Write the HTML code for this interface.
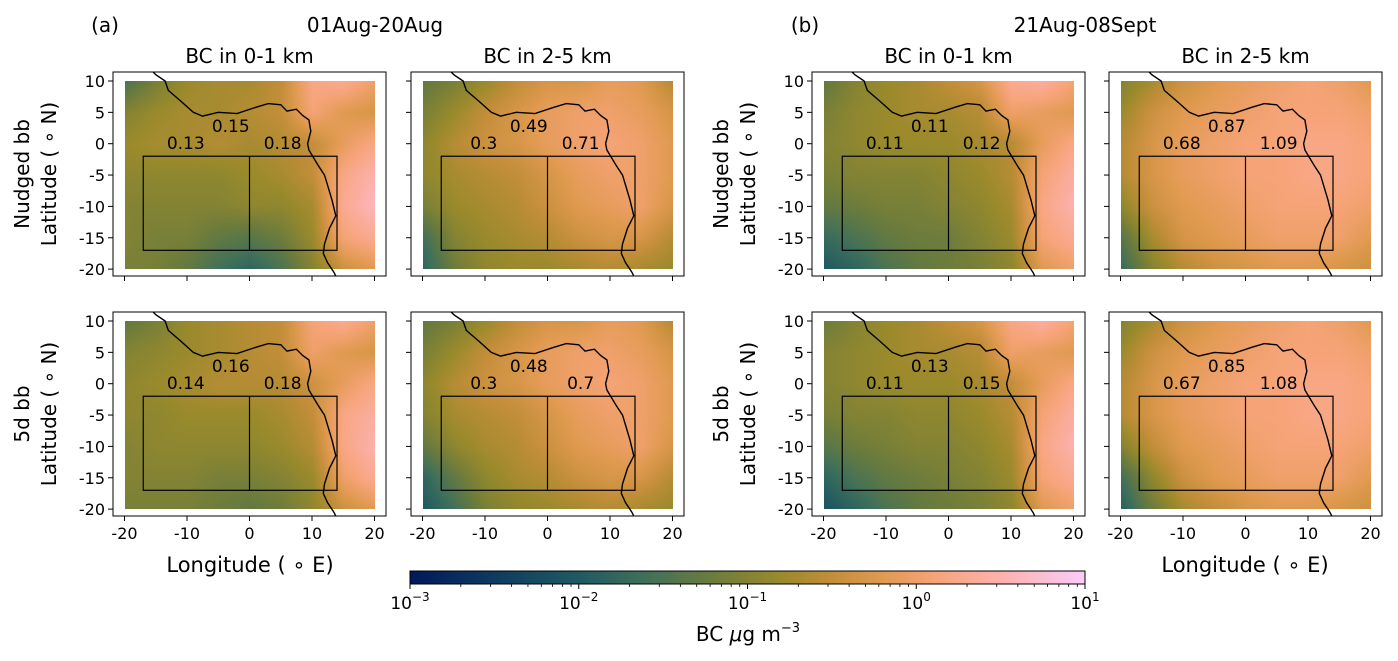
<!DOCTYPE html>
<html><head><meta charset="utf-8">
<style>
body{margin:0;background:#fff;width:1398px;height:661px;overflow:hidden;position:relative;font-family:"Liberation Sans","DejaVu Sans",sans-serif}
canvas{position:absolute}
svg{position:absolute;left:0;top:0}
</style></head>
<body>
<div id="maps"></div>
<svg id="s" width="1398" height="661" font-family="DejaVu Sans, Liberation Sans, sans-serif"></svg>
<script>
// grid: lon -20..20 step 5 (cols), lat 10..-20 step 5 (rows); values are log10(BC)
const lons=[-20,-15,-10,-5,0,5,10,15,20];
const lats=[10,5,0,-5,-10,-15,-20];
const gridA1=[[-1.5,-1.1,-0.8,-0.7,-0.7,-0.5,0.2,0.3,0.0],[-1.0,-0.8,-0.7,-0.7,-0.6,-0.5,0.1,-0.2,-0.3],[-0.8,-0.7,-0.7,-0.6,-0.7,-0.6,-0.5,-0.1,0.2],[-0.9,-0.9,-0.9,-0.9,-0.8,-0.7,-0.5,0.2,0.5],[-1.0,-1.0,-1.0,-1.0,-0.9,-0.9,-0.7,0.3,0.6],[-1.0,-1.1,-1.1,-1.3,-1.4,-1.2,-0.8,0.1,0.3],[-1.1,-1.1,-1.3,-1.6,-1.8,-1.5,-1.0,-0.4,-0.2]];
const gridA2=[[-1.3,-1.1,-0.8,-0.5,-0.3,-0.3,-0.1,-0.2,-0.6],[-1.1,-0.8,-0.5,-0.3,-0.1,0.0,0.0,-0.1,-0.3],[-0.9,-0.6,-0.4,-0.3,-0.1,0.0,0.1,0.0,-0.2],[-0.9,-0.7,-0.6,-0.5,-0.3,-0.1,0.0,0.0,-0.2],[-1.1,-0.8,-0.7,-0.6,-0.4,-0.2,-0.1,0.0,-0.3],[-1.6,-1.0,-0.8,-0.7,-0.6,-0.4,-0.3,-0.3,-0.6],[-1.8,-1.2,-0.9,-0.8,-0.8,-0.7,-0.6,-0.7,-0.8]];
const gridA3=[[-1.3,-1.1,-0.8,-0.7,-0.6,-0.5,0.1,0.3,0.0],[-1.0,-0.9,-0.8,-0.7,-0.6,-0.5,0.0,-0.2,-0.3],[-0.9,-0.8,-0.7,-0.6,-0.6,-0.6,-0.4,-0.1,0.2],[-0.9,-0.9,-0.8,-0.8,-0.8,-0.7,-0.5,0.2,0.4],[-1.0,-0.9,-0.9,-0.9,-0.9,-0.8,-0.6,0.2,0.5],[-1.0,-1.0,-1.0,-1.1,-1.1,-1.0,-0.8,0.0,0.3],[-1.1,-1.1,-1.1,-1.2,-1.3,-1.2,-0.9,-0.4,-0.2]];
const gridA4=[[-1.3,-1.1,-0.8,-0.5,-0.3,-0.3,-0.1,-0.2,-0.6],[-1.1,-0.8,-0.5,-0.3,-0.1,0.0,0.0,-0.1,-0.3],[-0.9,-0.6,-0.4,-0.3,-0.1,0.0,0.1,0.0,-0.2],[-1.0,-0.7,-0.6,-0.5,-0.3,-0.1,0.0,0.0,-0.2],[-1.3,-0.9,-0.7,-0.6,-0.4,-0.2,-0.1,0.0,-0.3],[-1.8,-1.3,-0.9,-0.7,-0.6,-0.4,-0.3,-0.3,-0.6],[-2.0,-1.6,-1.1,-0.9,-0.8,-0.7,-0.6,-0.7,-0.8]];
const gridB1=[[-1.3,-1.0,-0.8,-0.7,-0.5,-0.3,0.3,0.4,0.1],[-1.1,-0.9,-0.8,-0.7,-0.7,-0.6,0.0,-0.1,-0.2],[-1.0,-0.9,-0.8,-0.8,-0.8,-0.7,-0.6,-0.1,0.2],[-1.1,-1.0,-1.0,-1.0,-0.9,-0.8,-0.6,0.1,0.4],[-1.3,-1.2,-1.1,-1.1,-1.0,-0.9,-0.7,0.2,0.5],[-1.7,-1.5,-1.3,-1.2,-1.2,-1.0,-0.8,0.1,0.3],[-2.0,-1.8,-1.5,-1.3,-1.2,-1.1,-0.9,-0.2,0.0]];
const gridB2=[[-1.0,-0.7,-0.4,-0.2,-0.1,0.0,0.1,0.0,-0.2],[-0.8,-0.4,-0.2,-0.1,0.0,0.1,0.1,0.1,0.0],[-0.6,-0.3,-0.1,0.0,0.1,0.1,0.2,0.2,0.1],[-0.6,-0.3,-0.1,0.0,0.1,0.1,0.2,0.2,0.1],[-0.9,-0.4,-0.2,-0.1,0.0,0.1,0.1,0.1,0.0],[-1.4,-0.7,-0.3,-0.2,-0.1,0.0,0.0,0.0,-0.2],[-1.7,-1.0,-0.6,-0.4,-0.3,-0.2,-0.2,-0.3,-0.4]];
const gridB3=[[-1.2,-1.0,-0.8,-0.7,-0.5,-0.3,0.2,0.4,0.1],[-1.0,-0.9,-0.8,-0.7,-0.7,-0.6,0.0,-0.1,-0.2],[-1.0,-0.9,-0.8,-0.8,-0.8,-0.7,-0.5,-0.1,0.2],[-1.1,-1.0,-1.0,-0.9,-0.9,-0.8,-0.6,0.1,0.4],[-1.4,-1.2,-1.1,-1.0,-1.0,-0.9,-0.7,0.2,0.5],[-1.8,-1.5,-1.3,-1.2,-1.1,-1.0,-0.8,0.1,0.3],[-2.1,-1.8,-1.5,-1.3,-1.2,-1.1,-0.9,-0.2,0.0]];
const gridB4=[[-1.0,-0.7,-0.4,-0.2,-0.1,0.0,0.1,0.0,-0.2],[-0.8,-0.4,-0.2,-0.1,0.0,0.1,0.1,0.1,0.0],[-0.6,-0.3,-0.1,0.0,0.1,0.1,0.2,0.2,0.1],[-0.6,-0.3,-0.1,0.0,0.1,0.1,0.2,0.2,0.1],[-1.0,-0.5,-0.2,-0.1,0.0,0.1,0.1,0.1,0.0],[-1.6,-0.9,-0.4,-0.2,-0.1,0.0,0.0,0.0,-0.2],[-1.9,-1.2,-0.7,-0.5,-0.3,-0.2,-0.2,-0.3,-0.4]];
const boxVals=[[0.13,0.15,0.18],[0.3,0.49,0.71],[0.14,0.16,0.18],[0.3,0.48,0.7],[0.11,0.11,0.12],[0.68,0.87,1.09],[0.11,0.13,0.15],[0.67,0.85,1.08]];
const xTicks=[-20,-10,0,10,20];
const yTicks=[10,5,0,-5,-10,-15,-20];
const coastLon=[-16.5,-15,-13.5,-13,-11,-9,-7.5,-5,-2,1,3,5,6,7.5,8.5,9.5,9.8,9.3,9.5,11,12,12.3,13.2,13.8,12.8,12,11.8,12.5,13.5,14.5];
const coastLat=[12.5,11,10,8.5,6.8,5,4.4,5,4.8,5.8,6.4,6.2,5.2,5.5,4.5,3.8,2,0,-1,-3.5,-5,-6,-9,-11.5,-13.5,-16,-17.5,-19,-20.5,-22.5];

const stops=[[0,[1,25,89]],[0.15,[17,66,96]],[0.25,[31,90,98]],[0.35,[64,112,90]],[0.45,[109,124,60]],[0.55,[154,138,44]],[0.62,[192,141,56]],[0.7,[224,154,80]],[0.78,[247,164,122]],[0.88,[252,178,176]],[1,[249,204,249]]];
function cmap(t){t=Math.max(0,Math.min(1,t));for(let i=1;i<stops.length;i++){if(t<=stops[i][0]){const a=stops[i-1],b=stops[i],f=(t-a[0])/(b[0]-a[0]);return a[1].map((v,k)=>v+(b[1][k]-v)*f);}}return stops[stops.length-1][1];}
const toT=v=>(v+3)/4;

const grids=[gridA1,gridA2,gridA3,gridA4,gridB1,gridB2,gridB3,gridB4];
const colX=[113,411,812,1109];
const rowY=[72,312];
const AW=273,AH=204;
const panels=[];
for(let g=0;g<2;g++)for(let r=0;r<2;r++)for(let c=0;c<2;c++){panels.push({x0:colX[g*2+c],y0:rowY[r],col:c,row:r,grp:g});}
function lonX(p,lon){return p.x0+11.5+(lon+20)*6.25;}
function latY(p,lat){return p.y0+9+(10-lat)*6.27;}

const NS='http://www.w3.org/2000/svg';
const svg=document.getElementById('s');
function el(tag,attrs,parent){const e=document.createElementNS(NS,tag);for(const k in attrs)e.setAttribute(k,attrs[k]);(parent||svg).appendChild(e);return e;}
function txt(x,y,s,size,anchor,parent,rot){const t=el('text',{x:x,y:y,'font-size':size,'text-anchor':anchor||'middle',fill:'#000'},parent);if(rot)t.setAttribute('transform',`rotate(-90 ${x} ${y})`);t.textContent=s;return t;}

const maps=document.getElementById('maps');
panels.forEach((p,i)=>{
  const grid=grids[i];
  const cx0=Math.round(lonX(p,-20)),cx1=Math.round(lonX(p,20)),cy0=Math.round(latY(p,10)),cy1=Math.round(latY(p,-20));
  const w=cx1-cx0,h=cy1-cy0;
  const cv=document.createElement('canvas');
  cv.width=w;cv.height=h;cv.style.left=cx0+'px';cv.style.top=cy0+'px';
  
  
  maps.appendChild(cv);
  const ctx=cv.getContext('2d');const im=ctx.createImageData(w,h);
  for(let y=0;y<h;y++){const lat=10-(y+0.5)/h*30;const fr=(10-lat)/5;const r0=Math.min(5,Math.floor(fr)),ry=fr-r0;
    for(let x=0;x<w;x++){const lon=-20+(x+0.5)/w*40;const fc=(lon+20)/5;const c0=Math.min(7,Math.floor(fc)),cxf=fc-c0;
      const v=grid[r0][c0]*(1-cxf)*(1-ry)+grid[r0][c0+1]*cxf*(1-ry)+grid[r0+1][c0]*(1-cxf)*ry+grid[r0+1][c0+1]*cxf*ry;
      const col=cmap(toT(v));const k=(y*w+x)*4;im.data[k]=col[0];im.data[k+1]=col[1];im.data[k+2]=col[2];im.data[k+3]=255;}}
  ctx.putImageData(im,0,0);

  const g=el('g',{});
  
  
  const cid='clip'+i;
  const cp=el('clipPath',{id:cid},g);el('rect',{x:p.x0,y:p.y0,width:AW,height:AH},cp);
  let d='';coastLon.forEach((lo,k)=>{d+=(k?'L':'M')+lonX(p,lo).toFixed(1)+','+latY(p,coastLat[k]).toFixed(1);});
  const cl=el('path',{d:d,fill:'none',stroke:'#000','stroke-width':1.4,'clip-path':`url(#${cid})`},g);
  
  
  const bx=el('rect',{x:lonX(p,-17),y:latY(p,-2),width:lonX(p,14)-lonX(p,-17),height:latY(p,-17)-latY(p,-2),fill:'none',stroke:'#000','stroke-width':1.2},g);
  
  
  el('line',{x1:lonX(p,0),x2:lonX(p,0),y1:latY(p,-2),y2:latY(p,-17),stroke:'#000','stroke-width':1.2},g);
  const bv=boxVals[i];
  const t1=txt(lonX(p,-10.2),latY(p,0.1)+6,String(bv[0]),17,'middle',g);
  
  
  const t2=txt(lonX(p,-3),latY(p,2.8)+6,String(bv[1]),17,'middle',g);
  
  
  const t3=txt(lonX(p,5.3),latY(p,0.1)+6,String(bv[2]),17,'middle',g);
  
  
  el('rect',{x:p.x0,y:p.y0,width:AW,height:AH,fill:'none',stroke:'#000','stroke-width':1},g);
  xTicks.forEach(t=>{const x=lonX(p,t);el('line',{x1:x,x2:x,y1:p.y0+AH,y2:p.y0+AH+5,stroke:'#000'},g);
    if(p.row===1){const tl=txt(x,p.y0+AH+23,String(t),16,'middle',g);}});
  yTicks.forEach(t=>{const y=latY(p,t);el('line',{x1:p.x0-5,x2:p.x0,y1:y,y2:y,stroke:'#000'},g);
    if(p.col===0){const tl=txt(p.x0-8,y+6,String(t),16,'end',g);}});
  if(p.col===0){
    const a=txt(p.x0-84,p.y0+AH/2,p.row===0?'Nudged bb':'5d bb',20,'middle',g,true);
    
    
    const b=txt(p.x0-57,p.y0+AH/2,'Latitude ( ∘ N)',20,'middle',g,true);
    
    
  }
  if(p.row===0){const tt=txt(p.x0+AW/2,63,p.col===0?'BC in 0-1 km':'BC in 2-5 km',20,'middle',g);}
});
[['(a)',105],['(b)',805]].forEach(a=>{const t=txt(a[1],32,a[0],20,'middle');});
[['01Aug-20Aug',375],['21Aug-08Sept',1085]].forEach(a=>{const t=txt(a[1],32,a[0],20,'middle');});
[250,1245].forEach(x=>{const t=txt(x,572,'Longitude ( ∘ E)',21,'middle');});
const cbX0=410,cbX1=1085,cbY=571,cbH=13;
const cbExp=[-3,-2,-1,0,1];
const defs=el('defs',{});const lg=el('linearGradient',{id:'cbg',x1:0,x2:1,y1:0,y2:0},defs);
for(let k=0;k<=40;k++){const c=cmap(k/40);el('stop',{offset:k/40,'stop-color':`rgb(${c.map(Math.round).join(',')})`},lg);}
const cb=el('rect',{x:cbX0,y:cbY,width:cbX1-cbX0,height:cbH,fill:'url(#cbg)',stroke:'#000','stroke-width':1});


const cbx=v=>cbX0+(v+3)/4*(cbX1-cbX0);
cbExp.forEach(e=>{const x=cbx(e);el('line',{x1:x,x2:x,y1:cbY+cbH,y2:cbY+cbH+5,stroke:'#000'});
  const t=el('text',{x:x,y:cbY+cbH+25,'font-size':17,'text-anchor':'middle'});t.textContent='10';
  const s=el('tspan',{dy:-8,'font-size':12},t);s.textContent=e<0?'−'+(-e):String(e);
  
  if(e<1)for(let m=2;m<10;m++){const xm=cbx(e+Math.log10(m));el('line',{x1:xm,x2:xm,y1:cbY+cbH,y2:cbY+cbH+3,stroke:'#000','stroke-width':0.8});}});
const cl=el('text',{x:748,y:641,'font-size':20,'text-anchor':'middle'});cl.textContent='BC ';
const mu=el('tspan',{'font-style':'italic'},cl);mu.textContent='μ';
const gm=el('tspan',{},cl);gm.textContent='g m';const ex=el('tspan',{dy:-9,'font-size':13},cl);ex.textContent='−3';


</script>
</body></html>
